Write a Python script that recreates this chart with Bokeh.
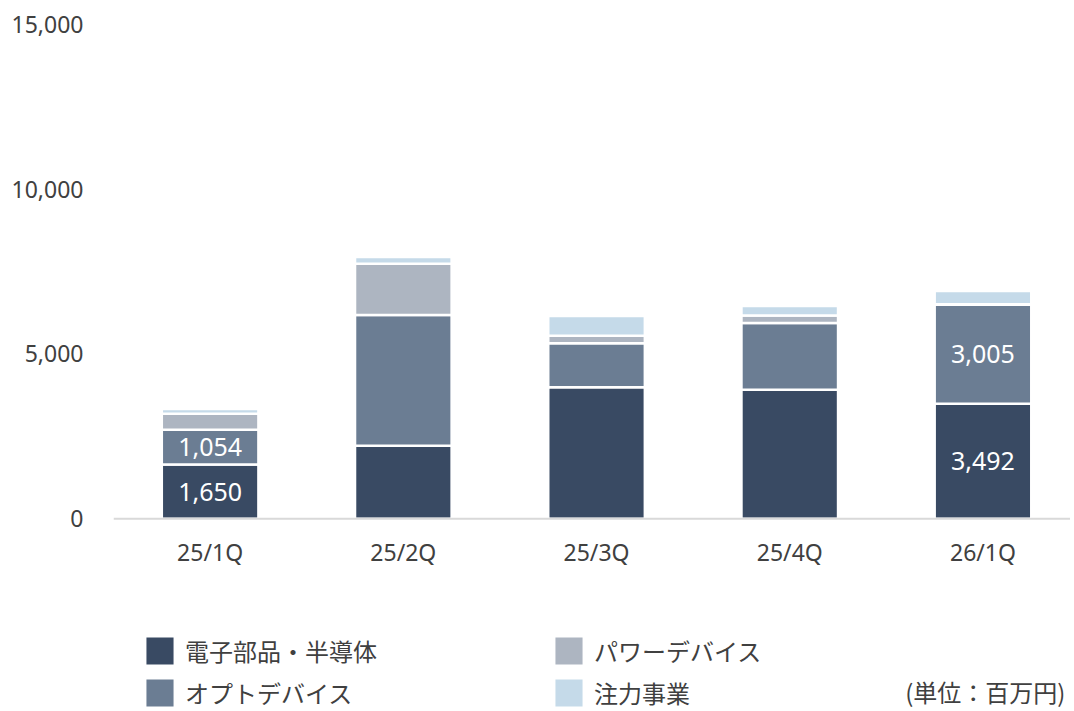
from bokeh.plotting import figure
from bokeh.models import (ColumnDataSource, FixedTicker, NumeralTickFormatter,
                          Legend, LegendItem, Label, Range1d, Span)
from bokeh.core.properties import value
from bokeh.embed import file_html
from bokeh.resources import INLINE

categories = ["25/1Q", "25/2Q", "25/3Q", "25/4Q", "26/1Q"]
electronic = [1650, 2215, 3991, 3915, 3492]
opto = [1054, 3967, 1335, 2024, 3005]
power = [480, 1554, 228, 228, 10]
focus = [145, 206, 598, 288, 404]
series_names = ["電子部品・半導体", "オプトデバイス", "パワーデバイス", "注力事業"]
colors = ["#394a63", "#6b7d93", "#adb5c1", "#c5dae9"]
labeled_idx = [0, 4]
y_ticks = [0, 5000, 10000, 15000]
unit_text = "(単位：百万円)"

NUM_FONT = "Noto Sans"
JP_FONT = "Noto Sans CJK JP"
TXT = "#404040"

xs = list(range(len(categories)))
src = ColumnDataSource(dict(x=xs, electronic=electronic, opto=opto, power=power, focus=focus))

p = figure(width=1070, height=711, output_backend="svg", toolbar_location=None,
           x_range=Range1d(-0.5, 4.453), y_range=Range1d(-5850, 15000),
           x_axis_location=None,
           min_border_left=113, min_border_right=0, min_border_top=24,
           min_border_bottom=0, outline_line_color=None)

renderers = p.vbar_stack(["electronic", "opto", "power", "focus"], x="x", width=0.5,
                         source=src, color=colors, line_color="white", line_width=2.5)

# baseline (category axis line)
p.add_layout(Span(location=0, dimension="width", line_color="#d9d9d9", line_width=2))

# category labels
p.text(x=xs, y=[-1000] * len(xs), text=categories, text_color=TXT, text_align="center",
       text_baseline="middle", text_font=value(NUM_FONT), text_font_size="23px")

# value labels
lx, ly, lt = [], [], []
for i in labeled_idx:
    lx += [xs[i], xs[i]]
    ly += [electronic[i] / 2, electronic[i] + opto[i] / 2]
    lt += [f"{electronic[i]:,}", f"{opto[i]:,}"]
p.text(x=lx, y=ly, text=lt, text_color="white", text_align="center",
       text_baseline="middle", text_font=value(NUM_FONT), text_font_size="25px")

p.xgrid.visible = False
p.ygrid.visible = False

p.yaxis.ticker = FixedTicker(ticks=y_ticks)
p.yaxis.formatter = NumeralTickFormatter(format="0,0")
p.yaxis.axis_line_color = None
p.yaxis.major_tick_line_color = None
p.yaxis.minor_tick_line_color = None
p.yaxis.major_label_standoff = 24
p.yaxis.major_label_text_font = NUM_FONT
p.yaxis.major_label_text_font_size = "23px"
p.yaxis.major_label_text_color = TXT

def make_legend(items, loc):
    lg = Legend(items=items, location=loc, orientation="vertical",
                glyph_width=37, glyph_height=37, label_standoff=7,
                label_text_font=JP_FONT, label_text_font_size="24px",
                label_text_color=TXT, padding=0, margin=0, spacing=5,
                border_line_color=None, background_fill_alpha=0)
    p.add_layout(lg)

make_legend([LegendItem(label=series_names[0], renderers=[renderers[0]]),
             LegendItem(label=series_names[1], renderers=[renderers[1]])], (28, 0))
make_legend([LegendItem(label=series_names[2], renderers=[renderers[2]]),
             LegendItem(label=series_names[3], renderers=[renderers[3]])], (437, 0))

p.add_layout(Label(x=4.427, y=-5230, text=unit_text, text_align="right",
                   text_baseline="middle", text_font=JP_FONT, text_font_size="24px",
                   text_color=TXT))

open("out.html", "w").write(file_html(p, INLINE))
